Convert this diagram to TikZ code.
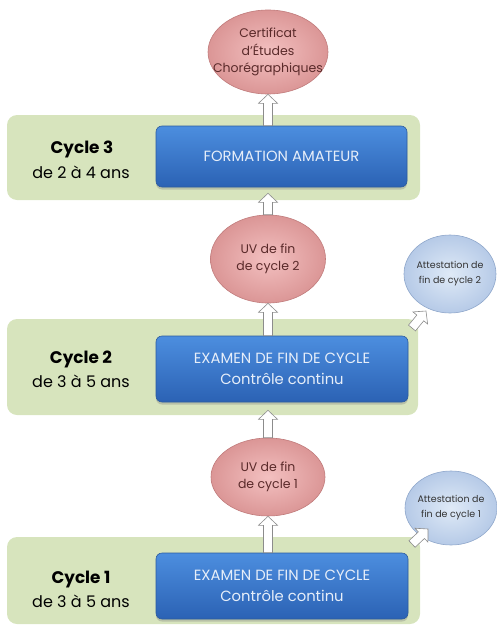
\documentclass[tikz,border=0pt]{standalone}
\usepackage{fontspec}
\setmainfont{Poppins}
\usetikzlibrary{shapes.geometric,calc,shadows}
\definecolor{panelgreen}{HTML}{D7E4BD}
\definecolor{bluetop}{HTML}{4C8EDF}
\definecolor{bluebot}{HTML}{2B62B4}
\definecolor{blueedge}{HTML}{2C5B9E}
\definecolor{bluetext}{HTML}{E6EEF9}
\definecolor{pinkin}{HTML}{F3C0C0}
\definecolor{pinkout}{HTML}{DB9696}
\definecolor{pinkedge}{HTML}{C07B7B}
\definecolor{pinktext}{HTML}{5A2A2A}
\definecolor{lbin}{HTML}{DFEAF7}
\definecolor{lbout}{HTML}{B6CAE7}
\definecolor{lbedge}{HTML}{8FA7CB}
\definecolor{lbtext}{HTML}{333333}
\definecolor{arrowedge}{HTML}{8C8C8C}
\tikzset{
  panel/.style={fill=panelgreen, rounded corners=10pt, inner sep=0pt},
  bluebox/.style={rounded corners=6pt, draw=blueedge, line width=0.6pt,
    top color=bluetop, bottom color=bluebot, text=bluetext, align=center,
    inner sep=0pt, font=\fontsize{14.8}{21}\selectfont,
    drop shadow={opacity=0.35, shadow xshift=0pt, shadow yshift=-2.5pt}},
  pinkell/.style={ellipse, draw=pinkedge, line width=0.6pt, inner color=pinkin,
    outer color=pinkout, inner sep=0pt},
  pinklbl/.style={text=pinktext, align=center, font=\fontsize{12.5}{17.5}\selectfont},
  lblbl/.style={text=lbtext, align=center, font=\fontsize{9.5}{15}\selectfont},
  lbell/.style={ellipse, draw=lbedge, line width=0.6pt, inner color=lbin,
    outer color=lbout, inner sep=0pt},
  cyclename/.style={anchor=base, font=\bfseries\fontsize{16.8}{20}\selectfont},
  cycleyears/.style={anchor=base, font=\fontsize{16}{20}\selectfont},
  barrowstyle/.style={draw=arrowedge, fill=white, line width=0.6pt, line join=miter}
}
\newcommand\blockarr[2]{%
  \draw[barrowstyle] let \p1=(#1), \p2=(#2), \n1={atan2(\y2-\y1,\x2-\x1)} in
    ($(\p1)+(\n1+90:4.5pt)$) -- ($(\p2)+(\n1:-9pt)+(\n1+90:4.5pt)$)
    -- ($(\p2)+(\n1:-9pt)+(\n1+90:9.5pt)$) -- (\p2)
    -- ($(\p2)+(\n1:-9pt)+(\n1-90:9.5pt)$) -- ($(\p2)+(\n1:-9pt)+(\n1-90:4.5pt)$)
    -- ($(\p1)+(\n1-90:4.5pt)$) -- cycle;}
\begin{document}
\begin{tikzpicture}[x=1pt,y=-1pt]
\useasboundingbox (0,0) rectangle (497,629);
% panels
\node[panel, minimum width=413pt, minimum height=85pt] (panel3) at (213.5,157.5) {};
\node[panel, minimum width=411pt, minimum height=96pt] (panel2) at (212.5,367) {};
\node[panel, minimum width=413pt, minimum height=87pt] (panel1) at (213.5,580.5) {};
% cycle labels
\node[cyclename] (c3n) at (82,153) {Cycle 3};
\node[cycleyears] (c3y) at (81,178) {de 2 à 4 ans};
\node[cyclename] (c2n) at (81,363) {Cycle 2};
\node[cycleyears] (c2y) at (81,387) {de 3 à 5 ans};
\node[cyclename] (c1n) at (81,583) {Cycle 1};
\node[cycleyears] (c1y) at (81,607) {de 3 à 5 ans};
% blue boxes
\node[bluebox, minimum width=251pt, minimum height=61pt] (blue3) at (281.5,156.5) {FORMATION AMATEUR};
\node[bluebox, minimum width=252pt, minimum height=66pt] (blue2) at (282,369) {EXAMEN DE FIN DE CYCLE\\Contrôle continu};
\node[bluebox, minimum width=252pt, minimum height=66pt] (blue1) at (282,586) {EXAMEN DE FIN DE CYCLE\\Contrôle continu};
% ellipses
\node[pinkell, minimum width=120pt, minimum height=84pt,
  label={[pinklbl]center:Certificat\\d’Études\\Chorégraphiques}] (cert) at (268,52) {};
\node[pinkell, minimum width=115pt, minimum height=88pt,
  label={[pinklbl]center:UV de fin\\de cycle 2}] (uv2) at (268,259) {};
\node[pinkell, minimum width=114pt, minimum height=78pt,
  label={[pinklbl]center:UV de fin\\de cycle 1}] (uv1) at (268,477) {};
\node[lbell, minimum width=92pt, minimum height=78pt,
  label={[lblbl]center:Attestation de\\fin de cycle 2}] (att2) at (450,274) {};
\node[lbell, minimum width=92pt, minimum height=74pt,
  label={[lblbl]center:Attestation de\\fin de cycle 1}] (att1) at (451,508) {};
% arrows
\blockarr{cert.south |- blue3.north}{cert.south}
\blockarr{uv2.north}{$(uv2.north |- blue3.south)+(0pt,-6pt)$}
\blockarr{uv2.south |- blue2.north}{uv2.south}
\blockarr{uv1.north}{$(uv1.north |- blue2.south)+(0pt,-8pt)$}
\blockarr{uv1.south |- blue1.north}{uv1.south}
\coordinate (d2s) at (412,328);
\coordinate (d2e) at (426,311);
\coordinate (d1s) at (412,544);
\coordinate (d1e) at (428,529);
\blockarr{d2s}{d2e}
\blockarr{d1s}{d1e}
\end{tikzpicture}
\end{document}
